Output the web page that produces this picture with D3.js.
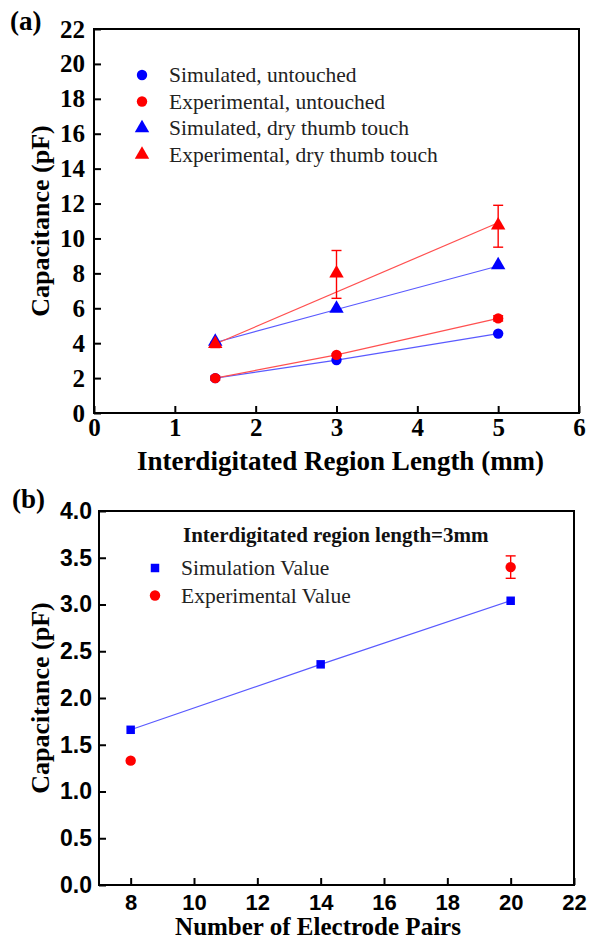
<!DOCTYPE html>
<html><head><meta charset="utf-8">
<script src="https://cdn.jsdelivr.net/npm/d3@7"></script>
<style>html,body{margin:0;padding:0;background:#fff;}svg{display:block;}</style>
</head><body>
<script>
// ---------- Panel (a) data ----------
const lengthsA = [1.5, 3, 5];
const simUntouched = [2.0, 3.03, 4.55];
const expUntouched = [2.0, 3.33, 5.42];
const expUntouchedErr = [0.12, 0.05, 0.15];
const simDryTouch = [4.04, 5.93, 8.42];
const expDryTouch = [3.9, 7.94, 10.7];
const expDryTouchErr = [0.15, 1.37, 1.2];
const fitXDry = [1.5, 5];
const fitExpDry = [3.95, 10.9];
const xTicksA = [0, 1, 2, 3, 4, 5, 6];
const yTicksA = [0, 2, 4, 6, 8, 10, 12, 14, 16, 18, 20, 22];
const legendA = ["Simulated, untouched", "Experimental, untouched", "Simulated, dry thumb touch", "Experimental, dry thumb touch"];

// ---------- Panel (b) data ----------
const pairsB = [8, 14, 20];
const simValueB = [1.66, 2.36, 3.04];
const expPairsB = [8, 20];
const expValueB = [1.33, 3.40];
const expErrB = [0, 0.12];
const xTicksB = [8, 10, 12, 14, 16, 18, 20, 22];
const yTicksB = [0, 0.5, 1, 1.5, 2, 2.5, 3, 3.5, 4];
const legendB = ["Simulation Value", "Experimental Value"];
const legendTitleB = "Interdigitated region length=3mm";

const W = 597, H = 941;
const BLUE = "#0000ff", RED = "#ff0000", BLUE_L = "#5a5aff", RED_L = "#ff5050";
const serif = "'Liberation Serif','Times New Roman',serif";
const sans = "'Liberation Sans',Arial,sans-serif";

const svg = d3.select("body").append("svg").attr("width", W).attr("height", H);

function frame(g, x, y, w, h) {
  g.append("rect").attr("x", x).attr("y", y).attr("width", w).attr("height", h)
    .attr("fill", "none").attr("stroke", "#000").attr("stroke-width", 2);
}
function styleAxis(ax, family, size) {
  ax.select(".domain").remove();
  ax.selectAll(".tick line").style("stroke", "#000").style("stroke-width", "2px");
  ax.selectAll(".tick text").style("font-family", family).style("font-weight", "bold")
    .style("font-size", size + "px").style("fill", "#000");
}

// ================= Panel (a) =================
const A = {l: 94, r: 579, t: 29, b: 413};
const xA = d3.scaleLinear().domain([0, 6]).range([A.l, A.r]);
const yA = d3.scaleLinear().domain([0, 22]).range([A.b, A.t]);
const gA = svg.append("g");

const axXA = gA.append("g").attr("transform", `translate(0,${A.b})`)
  .call(d3.axisBottom(xA).tickValues(xTicksA).tickFormat(d3.format("d")).tickSizeInner(-7).tickSizeOuter(0).tickPadding(6));
const axYA = gA.append("g").attr("transform", `translate(${A.l},0)`)
  .call(d3.axisLeft(yA).tickValues(yTicksA).tickFormat(d3.format("d")).tickSizeInner(-7).tickSizeOuter(0).tickPadding(9));
styleAxis(axXA, serif, 25);
styleAxis(axYA, serif, 25);
axXA.selectAll(".tick text").attr("y", 5).attr("dy", "0.72em");
axYA.selectAll(".tick text").attr("x", -9);
frame(gA, A.l, A.t, A.r - A.l, A.b - A.t);

const lineA = d3.line().x(d => xA(d[0])).y(d => yA(d[1]));
gA.append("path").attr("d", lineA(d3.zip(lengthsA, simUntouched))).attr("fill", "none").attr("stroke", BLUE_L).attr("stroke-width", 1.2);
gA.append("path").attr("d", lineA(d3.zip(lengthsA, expUntouched))).attr("fill", "none").attr("stroke", RED_L).attr("stroke-width", 1.2);
gA.append("path").attr("d", lineA(d3.zip(lengthsA, simDryTouch))).attr("fill", "none").attr("stroke", BLUE_L).attr("stroke-width", 1.2);
gA.append("path").attr("d", lineA(d3.zip(fitXDry, fitExpDry))).attr("fill", "none").attr("stroke", RED_L).attr("stroke-width", 1.2);

function errBars(g, xs, ys, es, xS, yS, color, cap) {
  xs.forEach((x, i) => {
    if (!es[i]) return;
    const cx = xS(x), y1 = yS(ys[i] + es[i]), y2 = yS(ys[i] - es[i]);
    g.append("line").attr("x1", cx).attr("x2", cx).attr("y1", y1).attr("y2", y2).attr("stroke", color).attr("stroke-width", 1.4);
    [y1, y2].forEach(yy => g.append("line").attr("x1", cx - cap).attr("x2", cx + cap).attr("y1", yy).attr("y2", yy).attr("stroke", color).attr("stroke-width", 1.4));
  });
}
errBars(gA, lengthsA, expUntouched, expUntouchedErr, xA, yA, RED, 5);
errBars(gA, lengthsA, expDryTouch, expDryTouchErr, xA, yA, RED, 5);

const circ = d3.symbol().type(d3.symbolCircle).size(85);
const tri = d3.symbol().type(d3.symbolTriangle).size(90);
const sq = d3.symbol().type(d3.symbolSquare).size(72);
function markers(g, xs, ys, xS, yS, sym, color, dyOff) {
  g.selectAll(null).data(d3.zip(xs, ys)).join("path")
    .attr("transform", d => `translate(${xS(d[0])},${yS(d[1]) + (dyOff || 0)})`)
    .attr("d", sym).attr("fill", color);
}
markers(gA, lengthsA, simUntouched, xA, yA, circ, BLUE);
markers(gA, lengthsA, expUntouched, xA, yA, circ, RED);
markers(gA, lengthsA, simDryTouch, xA, yA, tri, BLUE, -1);
markers(gA, lengthsA, expDryTouch, xA, yA, tri, RED, -1);

// legend (a)
const legSymsA = [[circ, BLUE], [circ, RED], [tri, BLUE], [tri, RED]];
legendA.forEach((t, i) => {
  const y = 75 + i * 26.5;
  gA.append("path").attr("d", legSymsA[i][0]).attr("fill", legSymsA[i][1]).attr("transform", `translate(142,${y})`);
  gA.append("text").attr("x", 169).attr("y", y + 7).style("font-family", serif).style("font-size", "21.5px").attr("fill", "#222").text(t);
});

gA.append("text").attr("x", 10).attr("y", 30).style("font-family", serif).style("font-weight", "bold").style("font-size", "27px").text("(a)");
gA.append("text").attr("transform", `translate(49,${(A.t + A.b) / 2}) rotate(-90)`).attr("text-anchor", "middle")
  .style("font-family", serif).style("font-weight", "bold").style("font-size", "26px").text("Capacitance (pF)");
gA.append("text").attr("x", (A.l + A.r) / 2 + 4).attr("y", 470).attr("text-anchor", "middle")
  .style("font-family", serif).style("font-weight", "bold").style("font-size", "27px").text("Interdigitated Region Length (mm)");

// ================= Panel (b) =================
const B = {l: 99, r: 574, t: 511, b: 885};
const xB = d3.scaleLinear().domain([7, 22]).range([B.l, B.r]);
const yB = d3.scaleLinear().domain([0, 4]).range([B.b, B.t]);
const gB = svg.append("g");

const axXB = gB.append("g").attr("transform", `translate(0,${B.b})`)
  .call(d3.axisBottom(xB).tickValues(xTicksB).tickFormat(d3.format("d")).tickSizeInner(-7).tickSizeOuter(0).tickPadding(6));
const axYB = gB.append("g").attr("transform", `translate(${B.l},0)`)
  .call(d3.axisLeft(yB).tickValues(yTicksB).tickFormat(d3.format(".1f")).tickSizeInner(-7).tickSizeOuter(0).tickPadding(8));
styleAxis(axXB, sans, 22);
styleAxis(axYB, sans, 23);
axXB.selectAll(".tick text").attr("y", 25).attr("dy", "0");
axYB.selectAll(".tick text").attr("x", -7);
frame(gB, B.l, B.t, B.r - B.l, B.b - B.t);

const lineB = d3.line().x(d => xB(d[0])).y(d => yB(d[1]));
gB.append("path").attr("d", lineB(d3.zip(pairsB, simValueB))).attr("fill", "none").attr("stroke", BLUE_L).attr("stroke-width", 1.2);
errBars(gB, expPairsB, expValueB, expErrB, xB, yB, RED, 5);
markers(gB, pairsB, simValueB, xB, yB, sq, BLUE);
markers(gB, expPairsB, expValueB, xB, yB, circ, RED);

gB.append("text").attr("x", 183).attr("y", 542).style("font-family", serif).style("font-weight", "bold").style("font-size", "21px").attr("fill", "#111").text(legendTitleB);
const legSymsB = [[sq, BLUE], [circ, RED]];
legendB.forEach((t, i) => {
  const y = 568 + i * 27.5;
  gB.append("path").attr("d", legSymsB[i][0]).attr("fill", legSymsB[i][1]).attr("transform", `translate(155,${y})`);
  gB.append("text").attr("x", 181).attr("y", y + 7).style("font-family", serif).style("font-size", "21.5px").attr("fill", "#222").text(t);
});

gB.append("text").attr("x", 12).attr("y", 508).style("font-family", serif).style("font-weight", "bold").style("font-size", "27px").text("(b)");
gB.append("text").attr("transform", `translate(49,${(B.t + B.b) / 2}) rotate(-90)`).attr("text-anchor", "middle")
  .style("font-family", serif).style("font-weight", "bold").style("font-size", "26px").text("Capacitance (pF)");
gB.append("text").attr("x", 318).attr("y", 935).attr("text-anchor", "middle")
  .style("font-family", serif).style("font-weight", "bold").style("font-size", "25px").text("Number of Electrode Pairs");
</script>
</body></html>
